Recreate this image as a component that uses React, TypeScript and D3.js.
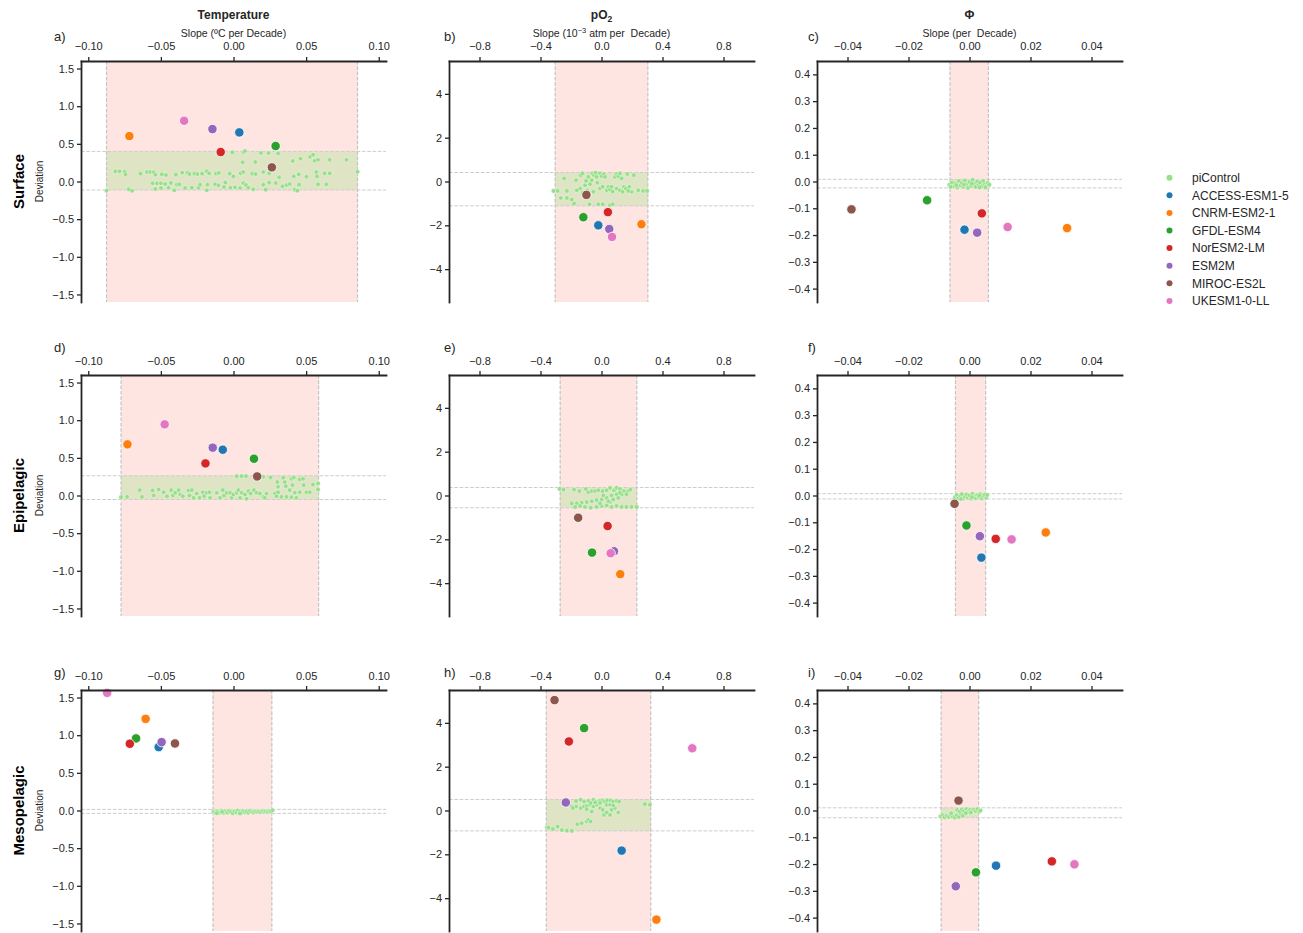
import { useRef, useEffect } from "react";
import * as d3 from "d3";

const W = 1303,
  H = 933;

const models = ["ACCESS-ESM1-5", "CNRM-ESM2-1", "GFDL-ESM4", "NorESM2-LM", "ESM2M", "MIROC-ES2L", "UKESM1-0-LL"];
const modelColors = ["#1f77b4", "#ff7f0e", "#2ca02c", "#d62728", "#9467bd", "#8c564b", "#e377c2"];
const layers = ["Surface", "Epipelagic", "Mesopelagic"];
const panelLabels = ["a)", "b)", "c)", "d)", "e)", "f)", "g)", "h)", "i)"];

// per column (variable)
const xDomains = [[-0.105, 0.105], [-1, 1], [-0.05, 0.05]];
const yDomains = [[-1.6, 1.6], [-5.5, 5.5], [-0.45, 0.45]];
const xTicks = [[-0.1, -0.05, 0, 0.05, 0.1], [-0.8, -0.4, 0, 0.4, 0.8], [-0.04, -0.02, 0, 0.02, 0.04]];
const yTicks = [[-1.5, -1, -0.5, 0, 0.5, 1, 1.5], [-4, -2, 0, 2, 4], [-0.4, -0.3, -0.2, -0.1, 0, 0.1, 0.2, 0.3, 0.4]];
const xFormats = [".2f", ".1f", ".2f"];
const yFormats = [".1f", "d", ".1f"];

// model slope / deviation per panel a..i, in model order (null = not shown)
const modelSlope = [
  [0.004, -0.0717, 0.029, -0.0088, -0.0145, 0.0264, -0.034],
  [-0.021, 0.262, -0.119, 0.042, 0.051, -0.099, 0.069],
  [-0.00164, 0.032, -0.0139, 0.00405, 0.00252, -0.0387, 0.0125],
  [-0.0074, -0.073, 0.0141, -0.0193, -0.0143, 0.0163, -0.0474],
  [null, 0.123, -0.062, 0.04, 0.082, -0.153, 0.06],
  [0.0039, 0.025, -0.001, 0.0086, 0.0034, -0.0049, 0.0138],
  [-0.0515, -0.0605, -0.0671, -0.0714, -0.0495, -0.0403, -0.087],
  [0.132, 0.36, -0.114, -0.214, -0.234, -0.308, 0.595],
  [0.0087, null, 0.0021, 0.027, -0.0045, -0.0036, 0.0344],
];
const modelDev = [
  [0.652, 0.603, 0.471, 0.391, 0.696, 0.188, 0.806],
  [-2.0, -1.95, -1.63, -1.4, -2.17, -0.61, -2.53],
  [-0.18, -0.174, -0.07, -0.119, -0.191, -0.104, -0.17],
  [0.608, 0.679, 0.488, 0.426, 0.635, 0.253, 0.945],
  [null, -3.59, -2.606, -1.394, -2.545, -1.015, -2.636],
  [-0.232, -0.138, -0.112, -0.162, -0.152, -0.031, -0.164],
  [0.842, 1.217, 0.957, 0.886, 0.908, 0.89, 1.562],
  [-1.83, -4.98, 3.76, 3.15, 0.366, 5.04, 2.84],
  [-0.206, null, -0.231, -0.19, -0.283, 0.037, -0.201],
];

// piControl range of slope and deviation per panel
const bandSlope = [
  [-0.0874, 0.0854], [-0.304, 0.304], [-0.0064, 0.0062],
  [-0.0774, 0.0586], [-0.271, 0.232], [-0.0046, 0.0053],
  [-0.0141, 0.0264], [-0.362, 0.323], [-0.0093, 0.003],
];
const bandDev = [
  [-0.113, 0.4], [-1.11, 0.41], [-0.024, 0.008],
  [-0.053, 0.262], [-0.56, 0.364], [-0.013, 0.007],
  [-0.038, 0.015], [-0.93, 0.504], [-0.027, 0.01],
];

// piControl samples [slope, deviation]
const piA = [[-0.0008,0.387],[0.007,0.387],[0.0079,0.404],[0.0189,0.378],[0.0241,0.378],[0.0307,0.373],[0.0063,0.254],[0.015,0.259],[0.0408,0.272],[0.0461,0.303],[0.0527,0.329],[0.0548,0.356],[0.0559,0.276],[0.0582,0.289],[0.0662,0.289],[0.0778,0.289],[0.0854,0.13],[-0.0813,0.135],[-0.0785,0.135],[-0.0749,0.13],[-0.0744,0.095],[-0.0641,0.104],[-0.0595,0.126],[-0.0573,0.126],[-0.055,0.122],[-0.0538,0.091],[-0.0493,0.095],[-0.0465,0.086],[-0.0397,0.091],[-0.0353,0.117],[-0.0317,0.117],[-0.0303,0.099],[-0.0269,0.104],[-0.0248,0.099],[-0.0216,0.104],[-0.0184,0.135],[-0.0168,0.108],[-0.012,0.104],[-0.0102,0.113],[-0.0026,0.104],[-0.0001,0.068],[0.0049,0.108],[0.0067,0.126],[0.0129,0.104],[0.0152,0.099],[0.0205,0.126],[0.0246,0.108],[0.0314,0.055],[0.0415,0.068],[0.0449,0.095],[0.0502,0.064],[0.057,0.126],[0.0575,0.068],[0.0627,0.108],[0.0662,0.108],[-0.0557,-0.024],[-0.0527,-0.024],[-0.0499,-0.024],[-0.047,-0.033],[-0.0431,-0.02],[-0.039,-0.042],[-0.0374,-0.038],[-0.0538,-0.099],[-0.0499,-0.086],[-0.0447,-0.082],[-0.0408,-0.117],[-0.0333,-0.086],[-0.0287,-0.082],[-0.0241,-0.082],[-0.023,-0.042],[-0.0184,-0.117],[-0.0179,-0.042],[-0.0127,-0.038],[-0.0104,-0.051],[-0.0056,-0.015],[-0.0065,-0.073],[-0.0022,-0.082],[0.001,-0.077],[0.0045,-0.086],[0.0067,-0.02],[0.0086,-0.046],[0.0102,-0.082],[0.0136,-0.104],[0.0205,-0.042],[0.0221,-0.108],[0.0246,-0.015],[0.0291,-0.02],[0.0337,-0.064],[0.0365,-0.046],[0.0387,-0.033],[0.0422,-0.108],[0.044,-0.122],[0.0451,-0.042],[0.0582,-0.038],[0.0639,-0.038],[-0.0874,-0.122],[-0.0721,-0.104],[-0.0698,-0.122]];
const piB = [[-0.315,-0.43],[-0.288,-0.43],[-0.227,-0.43],[-0.245,0.14],[-0.267,-0.75],[-0.227,-0.75],[-0.195,-0.82],[-0.18,-1.01],[-0.167,0.06],[-0.136,0.29],[-0.125,0.37],[-0.14,-0.32],[-0.108,-0.17],[-0.101,0.03],[-0.086,0.21],[-0.075,-0.12],[-0.06,0.37],[-0.049,0.29],[-0.038,0.4],[-0.032,0.21],[-0.027,-0.06],[-0.01,0.37],[0.001,0.24],[0.016,0.34],[0.023,0.21],[0.034,-0.4],[0.045,-0.24],[0.056,-0.37],[0.066,-0.24],[0.073,-0.46],[0.088,0.21],[0.099,0.34],[0.11,0.24],[0.121,0.37],[0.132,0.14],[0.147,-0.24],[0.16,-0.32],[0.169,0.34],[0.182,-0.24],[0.197,-0.47],[0.212,0.29],[0.241,-0.4],[0.273,-0.43],[0.299,-0.43],[-0.079,-1.04],[-0.021,-1.04],[0.008,-1.04],[0.056,-1.08],[0.073,-1.04],[-0.093,-0.4],[-0.053,-0.47],[-0.01,-0.32],[0.008,-0.24],[0.099,-0.32],[0.121,-0.4],[0.138,-0.47],[0.175,-0.43],[-0.123,-0.52],[-0.064,0.06],[-0.162,-0.4]];
const piC = [[-0.0066,-0.012],[-0.0058,-0.004],[-0.0052,-0.018],[-0.0046,-0.008],[-0.004,-0.022],[-0.0035,0.002],[-0.003,-0.014],[-0.0025,-0.006],[-0.002,-0.02],[-0.0015,0.004],[-0.001,-0.01],[-0.0005,-0.024],[0,-0.002],[0.0005,-0.016],[0.001,0.006],[0.0015,-0.008],[0.002,-0.02],[0.0025,0],[0.003,-0.012],[0.0035,-0.004],[0.004,-0.018],[0.0045,0.002],[0.005,-0.01],[0.0055,-0.016],[0.006,-0.006],[0.0065,-0.012],[-0.0043,-0.014],[-0.0018,-0.012],[0.0008,-0.008],[0.0033,-0.022],[-0.0062,-0.02],[0.0052,-0.022]];
const piD = [[-0.0774,-0.022],[-0.0733,-0.018],[-0.0646,0.071],[-0.063,-0.018],[-0.0557,0.067],[-0.055,0],[-0.0515,0.08],[-0.0481,0.044],[-0.0458,-0.009],[-0.0429,0.071],[-0.0417,0],[-0.0401,0.036],[-0.0378,0.071],[-0.0367,0.013],[-0.0349,-0.009],[-0.031,0.067],[-0.0303,0],[-0.0287,0.071],[-0.0275,-0.031],[-0.0253,0.027],[-0.0234,-0.031],[-0.0211,0.044],[-0.0202,-0.009],[-0.0184,0.036],[-0.0166,0.044],[-0.0161,-0.031],[-0.0115,0.036],[-0.0093,-0.031],[-0.0074,0.071],[-0.0065,0],[-0.0047,0.036],[-0.0024,0.036],[-0.0013,-0.031],[-0.0001,0.013],[0.0022,0.036],[0.0033,0.071],[0.0045,-0.031],[0.0056,0.036],[0.0079,0.013],[0.009,-0.044],[0.0102,0.058],[0.0118,0.027],[0.0141,0.071],[0.0159,0.036],[0.0182,0.027],[0.0205,-0.018],[0.0227,0.027],[0.0022,0.257],[0.0056,0.257],[0.0086,0.257],[0.0205,0.249],[0.0255,0.24],[0.0301,0.178],[0.0307,0.115],[0.0342,0.235],[0.0353,0.178],[0.036,0.124],[0.0399,0.222],[0.0406,0.138],[0.0415,0.24],[0.0456,0.213],[0.0479,0.222],[0.0483,0.138],[0.0502,0.044],[0.0525,0.044],[0.0547,0.146],[0.0582,0.16],[0.0582,0.08],[0.0285,0.027],[0.0296,-0.009],[0.033,-0.018],[0.0365,-0.018],[0.0387,0.071],[0.0399,-0.022],[0.0422,0.036],[0.0433,-0.031],[0.0456,0.044],[0.0307,0.044],[0.0216,-0.031]];
const piE = [[-0.275,0.3],[-0.249,0.27],[-0.18,0.27],[-0.145,0.2],[-0.103,0.3],[-0.086,0.15],[-0.064,0.2],[-0.042,0.2],[-0.021,0.24],[0.008,0.2],[0.034,0.24],[0.056,0.35],[0.082,0.24],[0.099,0.35],[0.121,0.3],[0.147,0.2],[0.175,0.2],[0.19,0.27],[0.164,0.05],[0.132,0.05],[0.099,0.05],[0.066,0],[0.034,-0.11],[0.001,-0.18],[-0.032,-0.21],[-0.064,-0.26],[-0.097,-0.3],[-0.13,-0.33],[-0.162,-0.36],[-0.195,-0.36],[-0.173,-0.52],[-0.14,-0.48],[-0.108,-0.52],[-0.071,-0.56],[-0.032,-0.52],[0.001,-0.48],[0.034,-0.45],[0.066,-0.52],[0.099,-0.48],[0.132,-0.52],[0.164,-0.52],[0.197,-0.52],[0.23,-0.52],[0.056,-0.3],[0.077,-0.18],[0.11,-0.11],[0.045,-0.26],[-0.01,-0.36],[0.012,0],[0.121,0.12]];
const piF = [[-0.0048,-0.008],[-0.0042,0.002],[-0.0036,-0.01],[-0.003,-0.002],[-0.0025,0.005],[-0.002,-0.011],[-0.0015,-0.004],[-0.001,0.004],[-0.0005,-0.008],[0,0],[0.0005,-0.012],[0.001,0.006],[0.0015,-0.004],[0.002,-0.01],[0.0025,0.002],[0.003,-0.006],[0.0035,0.005],[0.004,-0.011],[0.0045,-0.002],[0.005,0.004],[0.0055,-0.008],[0.0058,0.002],[-0.0028,-0.013],[0.0008,-0.006],[0.0032,0]];
const piG = [[-0.0138,-0.018],[-0.0125,-0.03],[-0.011,-0.01],[-0.0095,-0.025],[-0.008,-0.005],[-0.0068,-0.032],[-0.0055,-0.012],[-0.0042,-0.028],[-0.003,-0.004],[-0.0018,-0.02],[-0.0005,-0.035],[0.0008,-0.01],[0.002,-0.026],[0.003,0],[0.0042,-0.018],[0.0055,-0.034],[0.0066,-0.006],[0.0078,-0.022],[0.009,-0.012],[0.0102,-0.03],[0.0114,-0.004],[0.0126,-0.018],[0.0138,-0.026],[0.015,-0.01],[0.0162,-0.02],[0.0174,-0.014],[0.0186,-0.024],[0.0198,-0.008],[0.021,-0.018],[0.0222,-0.012],[0.0234,-0.02],[0.0246,-0.006],[0.0258,-0.014],[0.0268,0.004],[-0.0115,-0.035],[0.0045,-0.04],[-0.0078,-0.018]];
const piH = [[-0.358,-0.78],[-0.347,-0.78],[-0.319,-0.85],[-0.288,-0.73],[-0.26,-0.89],[-0.227,-0.92],[-0.195,-0.93],[-0.158,-0.63],[-0.13,-0.58],[-0.097,-0.5],[-0.086,-0.43],[-0.071,-0.5],[-0.195,0.18],[-0.167,0.18],[-0.136,0.11],[-0.114,0.18],[-0.097,0.21],[-0.075,0.26],[-0.053,0.18],[-0.032,0.26],[-0.01,0.11],[0.008,0.03],[0.016,-0.2],[0.034,-0.09],[0.056,-0.2],[0.066,0.03],[0.088,0.11],[0.11,-0.09],[-0.167,0.43],[-0.136,0.49],[-0.114,0.41],[-0.086,0.44],[-0.053,0.49],[-0.032,0.41],[-0.01,0.44],[0.008,0.46],[0.023,0.41],[0.038,0.46],[0.06,0.46],[0.077,0.41],[0.099,0.44],[0.116,0.41],[-0.071,0.34],[-0.042,0.37],[-0.01,0.34],[0.034,0.26],[0.056,0.26],[0.077,0.23],[0.284,0.29],[0.317,0.26],[-0.188,0.11],[-0.097,0.06],[-0.064,-0.05]];
const piI = [[-0.0095,-0.022],[-0.0088,-0.018],[-0.0082,-0.026],[-0.0075,-0.02],[-0.0068,-0.024],[-0.0062,-0.016],[-0.0055,-0.022],[-0.0048,-0.026],[-0.0042,-0.018],[-0.0035,-0.024],[-0.0028,-0.012],[-0.0022,-0.02],[-0.004,0.002],[-0.0032,-0.004],[-0.0025,0.004],[-0.0018,-0.002],[-0.001,0.005],[-0.0004,-0.004],[0.0002,0.003],[0.0008,-0.003],[0.0014,0.004],[0.002,-0.002],[0.0026,0.005],[0.0032,-0.004],[0.0036,0],[-0.0012,-0.01],[0.0004,-0.008],[-0.006,-0.01]];
const piControl = [piA, piB, piC, piD, piE, piF, piG, piH, piI];

const colLeft = [81, 449, 817];
const rowTop = [61, 375, 690];
const PW = 305,
  PH = 241;
const labelX = [54, 444, 808];
const labelDy = [-20, -23, -13];
const FONT = "'Liberation Sans', Arial, Helvetica, sans-serif";
const INK = "#262626";

export default function App() {
  const ref = useRef<SVGSVGElement>(null);

  useEffect(() => {
    if (!ref.current) return;
    const svg = d3.select(ref.current);
    svg.selectAll("*").remove();
    svg.append("rect").attr("width", W).attr("height", H).attr("fill", "#fff");

    for (let r = 0; r < 3; r++) {
      for (let c = 0; c < 3; c++) {
        const i = r * 3 + c;
        const x0 = colLeft[c],
          y0 = rowTop[r];
        const x = d3.scaleLinear().domain(xDomains[c]).range([x0, x0 + PW]);
        const y = d3.scaleLinear().domain(yDomains[c]).range([y0 + PH, y0]);
        const g = svg.append("g");

        const [sx0, sx1] = bandSlope[i];
        const [dy0, dy1] = bandDev[i];
        g.append("rect")
          .attr("x", x(sx0))
          .attr("y", y0)
          .attr("width", x(sx1) - x(sx0))
          .attr("height", PH)
          .attr("fill", "#fee5e1");
        g.append("rect")
          .attr("x", x(sx0))
          .attr("y", y(dy1))
          .attr("width", x(sx1) - x(sx0))
          .attr("height", y(dy0) - y(dy1))
          .attr("fill", "#dfe4c4");

        [dy0, dy1].forEach((v) =>
          g.append("line")
            .attr("x1", x0).attr("x2", x0 + PW)
            .attr("y1", y(v)).attr("y2", y(v))
            .attr("stroke", "#cdcdcd").attr("stroke-width", 1)
            .attr("stroke-dasharray", "3.7,1.6"),
        );
        [sx0, sx1].forEach((v) =>
          g.append("line")
            .attr("x1", x(v)).attr("x2", x(v))
            .attr("y1", y0).attr("y2", y0 + PH)
            .attr("stroke", "#c4c4c4").attr("stroke-width", 1.2)
            .attr("stroke-dasharray", "3.7,1.6"),
        );

        g.append("g")
          .selectAll("circle")
          .data(piControl[i])
          .join("circle")
          .attr("cx", (d) => x(d[0]))
          .attr("cy", (d) => y(d[1]))
          .attr("r", 2.3)
          .attr("fill", "#98df8a")
          .attr("stroke", "#fff")
          .attr("stroke-width", 0.4);

        const pts = models
          .map((m, k) => ({ k, sx: modelSlope[i][k], dv: modelDev[i][k] }))
          .filter((d) => d.sx !== null && d.dv !== null);
        g.append("g")
          .selectAll("circle")
          .data(pts)
          .join("circle")
          .attr("cx", (d) => x(d.sx as number))
          .attr("cy", (d) => y(d.dv as number))
          .attr("r", 4.7)
          .attr("fill", (d) => modelColors[d.k])
          .attr("stroke", "#fff")
          .attr("stroke-width", 0.8);

        const ax = g.append("g")
          .attr("transform", `translate(0,${y0})`)
          .call(
            d3.axisTop(x)
              .tickValues(xTicks[c])
              .tickFormat(d3.format(xFormats[c]) as any)
              .tickSize(4)
              .tickSizeOuter(0)
              .tickPadding(r === 0 ? 7 : 6),
          );
        const ay = g.append("g")
          .attr("transform", `translate(${x0},0)`)
          .call(
            d3.axisLeft(y)
              .tickValues(yTicks[c])
              .tickFormat(d3.format(yFormats[c]) as any)
              .tickSize(4)
              .tickSizeOuter(0)
              .tickPadding(3),
          );
        [ax, ay].forEach((a) => {
          a.attr("font-family", FONT).attr("font-size", 11);
          a.select(".domain").attr("stroke", INK).attr("stroke-width", 1.8).attr("stroke-linecap", "square");
          a.selectAll(".tick line").attr("stroke", INK).attr("stroke-width", 1.3);
          a.selectAll(".tick text").attr("fill", INK);
        });

        svg.append("text")
          .attr("x", labelX[c])
          .attr("y", y0 + labelDy[r])
          .attr("font-family", FONT)
          .attr("font-size", 13)
          .attr("fill", INK)
          .text(panelLabels[i]);
      }

      const cy = rowTop[r] + PH / 2;
      svg.append("text")
        .attr("transform", `translate(24,${cy}) rotate(-90)`)
        .attr("text-anchor", "middle")
        .attr("font-family", FONT)
        .attr("font-size", 15)
        .attr("font-weight", 700)
        .attr("fill", "#000")
        .text(layers[r]);
      svg.append("text")
        .attr("transform", `translate(43,${cy}) rotate(-90)`)
        .attr("text-anchor", "middle")
        .attr("font-family", FONT)
        .attr("font-size", 10)
        .attr("fill", INK)
        .text("Deviation");
    }

    // column titles
    const cx = colLeft.map((l) => l + PW / 2);
    const title = (k: number) =>
      svg.append("text")
        .attr("x", cx[k])
        .attr("y", 19)
        .attr("text-anchor", "middle")
        .attr("font-family", FONT)
        .attr("font-size", 12)
        .attr("font-weight", 700)
        .attr("fill", INK);
    title(0).text("Temperature");
    const t1 = title(1);
    t1.append("tspan").text("pO");
    t1.append("tspan").attr("font-size", 8.5).attr("dy", 3).text("2");
    title(2).text("Φ");

    const sub = (k: number) =>
      svg.append("text")
        .attr("x", cx[k])
        .attr("y", 36.5)
        .attr("text-anchor", "middle")
        .attr("font-family", FONT)
        .attr("font-size", 10.5)
        .attr("fill", INK)
        .style("white-space", "pre");
    sub(0).text("Slope (ºC per Decade)");
    const s1 = sub(1);
    s1.append("tspan").text("Slope (10");
    s1.append("tspan").attr("font-size", 7.5).attr("dy", -4).text("−3");
    s1.append("tspan").attr("dy", 4).text(" atm per  Decade)");
    sub(2).text("Slope (per  Decade)");

    // legend
    const leg = [{ name: "piControl", color: "#98df8a" }].concat(
      models.map((m, k) => ({ name: m, color: modelColors[k] })),
    );
    const lg = svg.append("g");
    leg.forEach((d, k) => {
      const ly = 177.7 + k * 17.6;
      lg.append("circle").attr("cx", 1169.5).attr("cy", ly).attr("r", 3).attr("fill", d.color);
      lg.append("text")
        .attr("x", 1192)
        .attr("y", ly + 4.2)
        .attr("font-family", FONT)
        .attr("font-size", 12)
        .attr("fill", INK)
        .text(d.name);
    });
  }, []);

  return (
    <svg
      ref={ref}
      width={W}
      height={H}
      style={{ position: "absolute", left: 0, top: 0, display: "block" }}
    />
  );
}
